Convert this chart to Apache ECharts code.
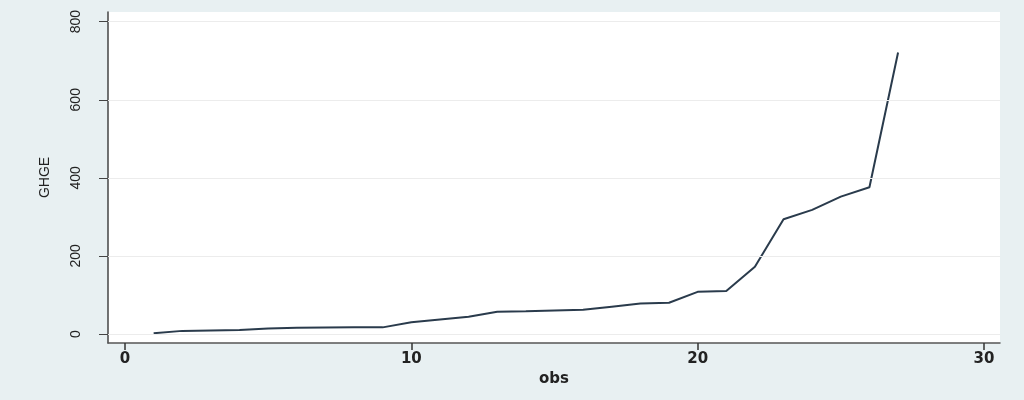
<!DOCTYPE html>
<html>
<head>
<meta charset="utf-8">
<script src="https://cdn.jsdelivr.net/npm/echarts@6/dist/echarts.min.js"></script>
<style>
html,body{margin:0;padding:0;background:#e8f0f2;}
#c{width:1024px;height:400px;}
</style>
</head>
<body>
<div id="c"></div>
<script>
var obs = [1,2,3,4,5,6,7,8,9,10,11,12,13,14,15,16,17,18,19,20,21,22,23,24,25,26,27];
var ghge = [2,8,9,10,14,16,16.5,17,17,30,37,44,57,58,60,62,70,78,80,108,110,172,294,318,352,376,721];
var xTicks = [0,10,20,30];
var yTicks = [0,200,400,600,800];

var chart = echarts.init(document.getElementById('c'));
var pts = obs.map(function(v,i){return [v, ghge[i]];});
chart.setOption({
  backgroundColor:'#e8f0f2',
  animation:false,
  grid:{left:108,right:24,top:12,bottom:57,show:true,backgroundColor:'#ffffff',borderWidth:0},
  xAxis:{
    type:'value', min:-0.594, max:30.56,
    name:'obs', nameLocation:'middle', nameGap:13,
    nameTextStyle:{fontFamily:'DejaVu Sans',fontSize:15,fontWeight:'bold',color:'#222'},
    axisLine:{show:true,onZero:false,lineStyle:{color:'#555',width:1.5}},
    axisTick:{show:true,length:7,customValues:xTicks,lineStyle:{color:'#333',width:1.5}},
    axisLabel:{customValues:xTicks,margin:9,fontFamily:'DejaVu Sans',fontSize:15,fontWeight:'bold',color:'#222'},
    splitLine:{show:false}
  },
  yAxis:{
    type:'value', min:-23.05, max:824.8,
    name:'GHGE', nameLocation:'middle', nameGap:56, nameRotate:90,
    nameTextStyle:{fontFamily:'Liberation Sans Narrow, Liberation Sans',fontSize:14,color:'#222'},
    axisLine:{show:true,onZero:false,lineStyle:{color:'#444',width:1.5}},
    axisTick:{show:true,length:9,customValues:yTicks,lineStyle:{color:'#444',width:1}},
    axisLabel:{customValues:yTicks,rotate:90,margin:25,fontFamily:'Liberation Sans Narrow, Liberation Sans',fontSize:14,color:'#222'},
    splitLine:{show:false}
  },
  series:[{
    type:'line', data:pts, showSymbol:false, symbol:'none',
    lineStyle:{color:'#2a3b4c',width:2},
    markLine:{
      silent:true, symbol:'none', label:{show:false},
      lineStyle:{color:'#ececec',width:1,type:'solid'},
      data:yTicks.map(function(v){return {yAxis:v};})
    },
    z:3
  }]
});
</script>
</body>
</html>
